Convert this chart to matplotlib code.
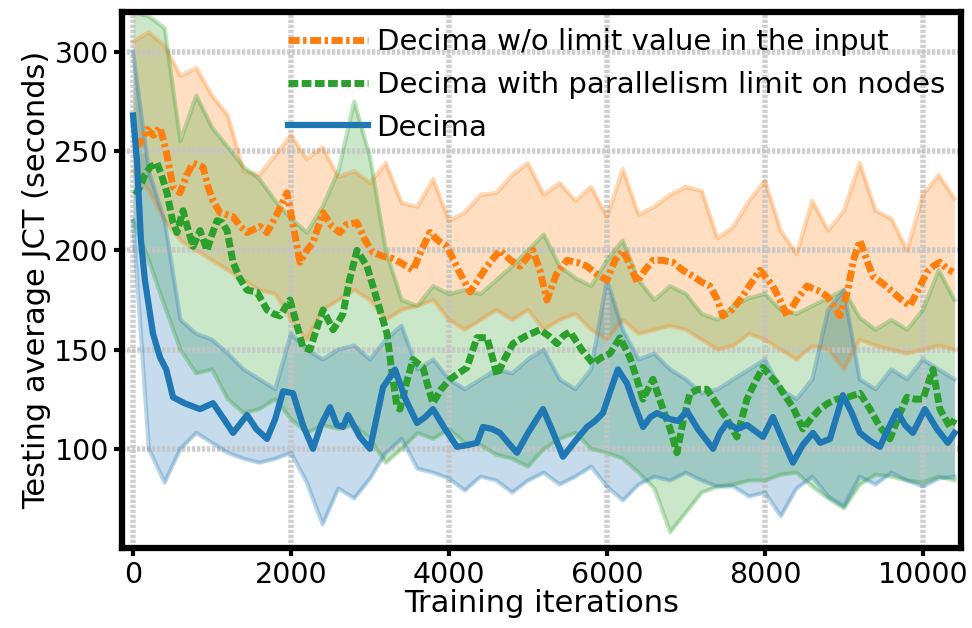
import numpy as np
import matplotlib
matplotlib.use("Agg")
import matplotlib.pyplot as plt

blue_x = [0, 50, 100, 150, 253, 342, 420, 506, 650, 848, 1013, 1150, 1266, 1443, 1560, 1696, 1800, 1899,
          2025, 2150, 2278, 2380, 2494, 2580, 2658, 2722, 2873, 3000, 3080, 3165, 3316, 3450, 3595, 3700,
          3797, 3950, 4101, 4250, 4354, 4430, 4546, 4646, 4750, 4861, 5000, 5190, 5300, 5443, 5600, 5747,
          5849, 5949, 6050, 6139, 6253, 6350, 6456, 6550, 6633, 6797, 6900, 7013, 7150, 7342, 7430, 7519,
          7650, 7772, 7975, 8101, 8230, 8354, 8480, 8608, 8700, 8823, 8987, 9100, 9203, 9330, 9456, 9560,
          9671, 9773, 9873, 10025, 10177, 10316, 10400]
blue_y = [268, 245, 205, 185, 158, 146, 140, 126, 123, 120, 123, 115, 108, 117, 110, 105, 115, 129,
          128, 112, 100, 112, 121, 112, 111, 117, 106, 100, 115, 131, 140, 125, 113, 116,
          120, 110, 101, 102, 103, 111, 110, 108, 103, 98, 108, 120, 110, 96, 104, 111,
          114, 118, 130, 140, 133, 122, 111, 116, 118, 115, 114, 119, 110, 100, 108, 113,
          110, 112, 106, 116, 104, 93, 102, 108, 103, 105, 127, 118, 108, 104, 101, 110,
          119, 112, 108, 120, 110, 103, 108]

orange_x = [30, 89, 177, 260, 342, 420, 506, 595, 680, 760, 886, 950, 1013, 1101, 1266, 1360, 1443, 1608,
            1696, 1820, 1949, 2030, 2114, 2200, 2278, 2405, 2520, 2620, 2700, 2835, 2940, 3038, 3165, 3280,
            3380, 3544, 3650, 3759, 3860, 3975, 4120, 4266, 4350, 4430, 4540, 4646, 4780, 4899, 5063, 5150,
            5240, 5360, 5494, 5620, 5747, 5873, 6000, 6100, 6203, 6300, 6380, 6480, 6582, 6700, 6835, 6960,
            7089, 7200, 7304, 7400, 7468, 7580, 7684, 7800, 7937, 8020, 8101, 8190, 8278, 8400, 8532, 8660,
            8785, 8870, 8949, 9050, 9120, 9203, 9290, 9367, 9500, 9620, 9730, 9835, 9940, 10051, 10130,
            10215, 10300, 10380]
orange_y = [252, 254, 261, 258, 262, 250, 232, 229, 238, 244, 242, 232, 225, 219, 217, 212, 209, 212,
            209, 218, 229, 212, 194, 200, 204, 219, 212, 209, 213, 214, 205, 199, 197, 196,
            194, 190, 200, 209, 205, 202, 190, 179, 184, 189, 195, 200, 195, 192, 200, 190,
            175, 188, 195, 194, 192, 188, 185, 195, 200, 192, 184, 190, 195, 195, 194, 190,
            187, 184, 182, 175, 167, 170, 175, 182, 190, 186, 182, 175, 167, 175, 182, 180,
            177, 172, 167, 180, 195, 205, 195, 187, 183, 179, 175, 172, 180, 189, 192,
            194, 191, 189]

green_x = [30, 89, 150, 215, 304, 360, 430, 500, 557, 633, 700, 760, 848, 937, 1000, 1063, 1130, 1190,
           1266, 1350, 1443, 1570, 1696, 1780, 1861, 1987, 2070, 2152, 2240, 2320, 2405, 2470, 2532, 2600,
           2658, 2740, 2835, 2962, 3089, 3215, 3280, 3342, 3380, 3460, 3544, 3671, 3730, 3797, 3900, 4013,
           4120, 4228, 4354, 4481, 4550, 4608, 4700, 4810, 4980, 5152, 5260, 5367, 5450, 5532, 5680, 5823,
           5930, 6038, 6165, 6291, 6380, 6456, 6582, 6709, 6800, 6886, 6970, 7051, 7160, 7266, 7400, 7519,
           7646, 7772, 7880, 7975, 8060, 8152, 8250, 8354, 8481, 8600, 8696, 8800, 8911, 9050, 9203, 9330,
           9456, 9582, 9700, 9797, 9900, 10000, 10127, 10215, 10342, 10400]
green_y = [228, 232, 238, 242, 244, 238, 229, 215, 209, 220, 210, 202, 210, 200, 208, 215, 214, 210,
           194, 186, 180, 179, 170, 168, 167, 175, 163, 151, 150, 160, 170, 165, 160, 164,
           168, 185, 200, 192, 175, 158, 138, 121, 120, 133, 145, 141, 132, 123, 130, 135,
           138, 141, 156, 156, 146, 137, 145, 153, 157, 160, 157, 153, 157, 159, 150, 143,
           146, 148, 156, 146, 135, 125, 135, 120, 110, 98, 115, 128, 130, 130, 122, 115,
           106, 125, 134, 141, 137, 133, 127, 121, 110, 116, 120, 123, 125, 126, 128, 120,
           111, 105, 117, 126, 125, 125, 140, 120, 111, 115]

# spread bands, every 200 iterations
band_x = list(range(0, 10401, 200))
blue_hi = [300, 240, 215, 165, 158, 155, 148, 140, 135, 130, 158, 150, 145, 150, 152, 145, 155, 162,
           140, 145, 135, 130, 135, 140, 138, 145, 150, 135, 130, 140, 185, 160, 145, 148, 140, 135,
           128, 130, 135, 140, 145, 130, 125, 135, 170, 180, 135, 130, 140, 135, 145, 140, 135]
blue_lo = [215, 100, 83, 100, 108, 103, 98, 95, 93, 95, 98, 83, 62, 80, 75, 85, 98, 105,
           90, 88, 85, 79, 86, 84, 78, 84, 88, 82, 86, 91, 81, 74, 82, 86, 84, 88,
           84, 81, 81, 76, 78, 66, 80, 86, 76, 71, 86, 82, 88, 84, 81, 85, 86]
orange_hi = [305, 310, 303, 288, 292, 278, 268, 240, 238, 248, 258, 246, 252, 237, 240, 234, 244, 224,
             222, 236, 215, 219, 228, 229, 238, 244, 228, 234, 225, 232, 217, 241, 218, 222, 228, 232,
             230, 206, 212, 225, 235, 210, 198, 225, 210, 220, 244, 220, 216, 200, 228, 238, 226]
orange_lo = [240, 230, 215, 205, 200, 195, 190, 185, 180, 178, 165, 155, 170, 175, 180, 175, 165, 170,
             172, 175, 165, 160, 165, 170, 165, 170, 160, 165, 168, 160, 155, 165, 158, 160, 162, 160,
             155, 150, 152, 158, 155, 150, 145, 152, 150, 140, 155, 152, 150, 148, 150, 152, 150]
green_hi = [320, 318, 312, 255, 278, 262, 252, 242, 236, 225, 216, 209, 222, 240, 275, 247, 200, 175,
            172, 182, 178, 180, 178, 185, 192, 200, 208, 192, 186, 182, 195, 205, 185, 175, 182, 178,
            168, 165, 172, 176, 178, 170, 168, 172, 176, 180, 166, 160, 165, 160, 170, 190, 175]
green_lo = [215, 195, 172, 150, 138, 140, 125, 118, 120, 125, 115, 108, 112, 110, 112, 105, 93, 100,
            108, 105, 110, 103, 102, 97, 95, 91, 100, 105, 108, 100, 98, 95, 88, 80, 58, 68,
            78, 81, 82, 84, 84, 87, 88, 81, 75, 70, 82, 87, 86, 84, 83, 86, 84]

x_ticks = [0, 2000, 4000, 6000, 8000, 10000]
y_ticks = [100, 150, 200, 250, 300]

BLUE, ORANGE, GREEN = "#1f77b4", "#ff7f0e", "#2ca02c"

plt.rcParams["font.family"] = "DejaVu Sans"

fig = plt.figure(figsize=(9.72, 6.28), dpi=100)
ax = fig.add_axes([0.1255, 0.1274, 0.863, 0.853])

for hi, lo, c in [(orange_hi, orange_lo, ORANGE), (green_hi, green_lo, GREEN), (blue_hi, blue_lo, BLUE)]:
    ax.fill_between(band_x, lo, hi, color=c, alpha=0.25, linewidth=0)
    ax.plot(band_x, hi, color=c, alpha=0.3, linewidth=3)
    ax.plot(band_x, lo, color=c, alpha=0.3, linewidth=3)

ax.plot(orange_x, orange_y, color=ORANGE, linewidth=5, linestyle=(0, (1.6, 0.5, 0.5, 0.5)),
        label="Decima w/o limit value in the input")
ax.plot(green_x, green_y, color=GREEN, linewidth=5, linestyle=(0, (1.4, 0.5)),
        label="Decima with parallelism limit on nodes")
ax.plot(blue_x, blue_y, color=BLUE, linewidth=4.5, label="Decima")

ax.set_xlim(-140, 10480)
ax.set_ylim(50, 320)
ax.set_xticks(x_ticks)
ax.set_yticks(y_ticks)
ax.grid(True, color="#c4c4c4", linestyle=(0, (0.6, 0.3)), linewidth=4, alpha=0.8)

for s in ax.spines.values():
    s.set_linewidth(4.5)
ax.tick_params(width=3, length=6, labelsize=20.5)

ax.set_xlabel("Training iterations", fontsize=22, labelpad=0)
ax.set_ylabel("Testing average JCT (seconds)", fontsize=22, labelpad=2)

ax.legend(loc="upper right", frameon=False, fontsize=21, handlelength=2.75,
          handletextpad=0.3, labelspacing=0.5, borderaxespad=0.25, borderpad=0.3)

fig.savefig("out.png", dpi=100)
